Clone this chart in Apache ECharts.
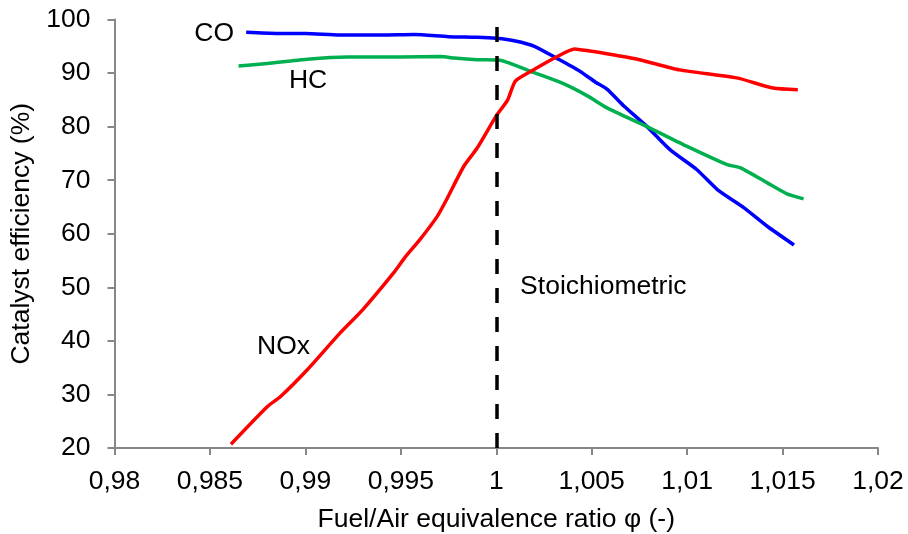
<!DOCTYPE html>
<html>
<head>
<meta charset="utf-8">
<script src="https://cdn.jsdelivr.net/npm/echarts@6/dist/echarts.min.js"></script>
<style>
  html, body { margin: 0; padding: 0; background: #fff; }
  #chart { width: 908px; height: 534px; }
</style>
</head>
<body>
<div id="chart"></div>
<script>
// data: [phi, efficiency %]
var coData = [
  [0.9869, 97.6], [0.9885, 97.4], [0.9900, 97.4], [0.9918, 97.1], [0.9940, 97.1],
  [0.9957, 97.2], [0.9975, 96.8], [0.9990, 96.7], [1.0000, 96.5], [1.0010, 96.0],
  [1.0020, 95.0], [1.0032, 92.7], [1.0044, 90.3], [1.0052, 88.3], [1.0058, 87.0],
  [1.0067, 83.8], [1.0079, 80.0], [1.0091, 75.7], [1.0105, 72.0], [1.0116, 68.2],
  [1.0130, 64.8], [1.0142, 61.4], [1.0156, 57.9]
];
var hcData = [
  [0.9865, 91.3], [0.9880, 91.8], [0.9901, 92.6], [0.9922, 93.0], [0.9950, 93.0],
  [0.9971, 93.1], [0.9978, 92.8], [0.9990, 92.5], [1.0002, 92.4], [1.0018, 90.3],
  [1.0034, 88.2], [1.0048, 85.7], [1.0058, 83.5], [1.0079, 80.0], [1.0100, 76.3],
  [1.0121, 72.9], [1.0128, 72.3], [1.0142, 69.5], [1.0152, 67.5], [1.0161, 66.5]
];
var noxData = [
  [0.9861, 20.7], [0.9880, 27.7], [0.9887, 29.6], [0.9901, 34.6], [0.9918, 41.4],
  [0.9930, 45.8], [0.9946, 52.6], [0.9952, 55.5], [0.9960, 58.9], [0.9969, 63.2],
  [0.9974, 66.4], [0.9983, 72.6], [0.9990, 76.0], [1.0000, 82.0], [1.0006, 85.0],
  [1.0010, 88.5], [1.0018, 90.3], [1.0032, 93.1], [1.0041, 94.5], [1.0049, 94.1],
  [1.0058, 93.6], [1.0075, 92.5], [1.0096, 90.6], [1.0126, 89.1], [1.0145, 87.2],
  [1.0158, 86.9]
];
var stoichX = 1;

// text annotations, placed in data coordinates
var labelNames = ['CO', 'HC', 'NOx', 'Stoichiometric'];
var labelX = [0.98522, 0.99014, 0.98886, 1.00125];
var labelY = [97.4, 88.5, 39.0, 50.1];

var FONT = '"Liberation Sans", Arial, sans-serif';
var FS = 26.5;
var chart = echarts.init(document.getElementById('chart'));

function fmtX(v) {
  return String(Math.round(v * 1000) / 1000).replace('.', ',');
}

function lineSeries(name, data, color) {
  return {
    name: name,
    type: 'line',
    data: data,
    showSymbol: false,
    smooth: 0.2,
    lineStyle: { color: color, width: 3.5 },
    z: 3
  };
}

var labelPoints = labelNames.map(function(n, i){
  var last = i === labelNames.length - 1;
  return {
    name: n,
    value: [labelX[i], labelY[i]],
    label: { align: last ? 'left' : 'center' }
  };
});

var option = {
  animation: false,
  backgroundColor: '#fff',
  grid: { left: 114.5, right: 30, top: 19.5, bottom: 86, outerBoundsMode: 'none', containLabel: false },
  xAxis: {
    type: 'value',
    min: 0.98,
    max: 1.02,
    interval: 0.005,
    name: 'Fuel/Air equivalence ratio φ (-)',
    nameLocation: 'middle',
    nameGap: 58,
    nameTextStyle: { fontFamily: FONT, fontSize: FS, color: '#000' },
    axisLine: { lineStyle: { color: '#878787', width: 2 } },
    axisTick: { show: true, length: 7, lineStyle: { color: '#878787', width: 2 } },
    axisLabel: { formatter: fmtX, fontFamily: FONT, fontSize: FS, color: '#000', margin: 20 },
    splitLine: { show: false }
  },
  yAxis: {
    type: 'value',
    min: 20,
    max: 100,
    interval: 10,
    name: 'Catalyst efficiency (%)',
    nameLocation: 'middle',
    nameGap: 68,
    nameRotate: 90,
    nameTextStyle: { fontFamily: FONT, fontSize: FS, color: '#000' },
    axisLine: { show: true, lineStyle: { color: '#878787', width: 2 } },
    axisTick: { show: true, length: 7, lineStyle: { color: '#878787', width: 2 } },
    axisLabel: { fontFamily: FONT, fontSize: FS, color: '#000', margin: 24 },
    splitLine: { show: false }
  },
  series: [
    lineSeries('CO', coData, '#0000FF'),
    lineSeries('HC', hcData, '#00B050'),
    lineSeries('NOx', noxData, '#FF0000'),
    {
      // vertical dashed line at stoichiometric ratio
      type: 'line',
      data: [],
      markLine: {
        silent: true,
        symbol: 'none',
        label: { show: false },
        lineStyle: { color: '#000', width: 3.5, type: [15, 14] },
        data: [{ xAxis: stoichX }]
      },
      z: 4
    },
    {
      type: 'scatter',
      symbolSize: 0,
      data: labelPoints,
      silent: true,
      itemStyle: { opacity: 1 },
      label: {
        show: true,
        position: 'inside',
        formatter: '{b}',
        fontFamily: FONT,
        fontSize: FS,
        color: '#000',
        opacity: 1
      },
      z: 5
    }
  ]
};

chart.setOption(option);
</script>
</body>
</html>
